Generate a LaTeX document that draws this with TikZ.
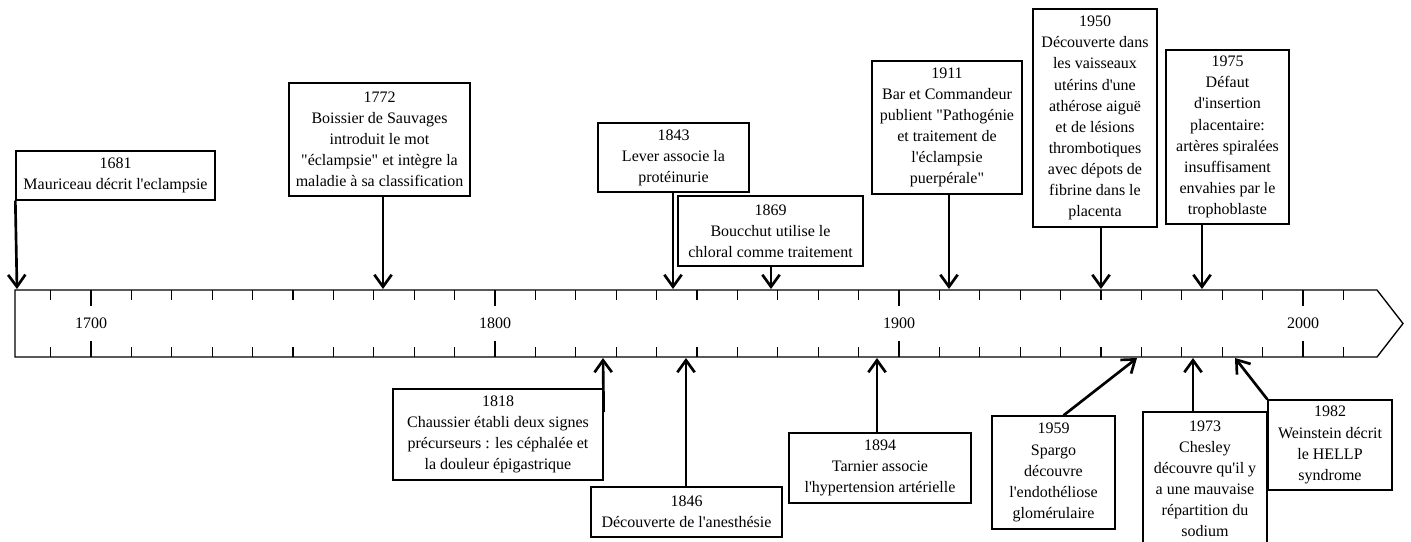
\documentclass[tikz,border=0pt]{standalone}
\usepackage{fontspec}
\setmainfont{Liberation Serif}[Ligatures=TeXOff]
\usepackage{tikz}
\usetikzlibrary{arrows.meta}

\tikzset{
  event/.style={draw, line width=1pt, inner sep=0pt, align=center, font=\fontsize{12}{15.8}\selectfont},
  pointer/.style={line width=2pt, -{Straight Barb[length=9pt, width=13pt]}},
  timebar/.style={line width=1pt, line join=miter},
  yeartick/.style={line width=1pt},
  yearlbl/.style={font=\fontsize{12}{14}\selectfont, inner sep=0pt}
}

\begin{document}
\begin{tikzpicture}[x=0.75pt, y=-0.75pt]
\useasboundingbox (0,0) rectangle (1411,542);
\clip (0,0) rectangle (1411,542);

% time axis
\draw[timebar] (15,290) -- (1377,290) -- (1403,323.5) -- (1377,357) -- (15,357) -- cycle;
\foreach \yr in {1690,1700,...,2010}
  \draw[yeartick] ({91+4.04*(\yr-1700)},290) -- ++(0,10) ({91+4.04*(\yr-1700)},357) -- ++(0,-10);
\foreach \yr in {1700,1800,1900,2000} {
  \draw[yeartick] ({91+4.04*(\yr-1700)},290) -- ++(0,16) ({91+4.04*(\yr-1700)},357) -- ++(0,-16);
  \node[yearlbl] (y\yr) at ({91+4.04*(\yr-1700)},323.5) {\yr};
}

% arrow ends on the axis
\coordinate (t1681) at (17,289);
\coordinate (t1772) at (383,289);
\coordinate (t1843) at (673,289);
\coordinate (t1869) at (771,289);
\coordinate (t1911) at (949,289);
\coordinate (t1950) at (1101,289);
\coordinate (t1975) at (1202,289);
\coordinate (b1818) at (603,358);
\coordinate (b1846) at (686,358);
\coordinate (b1894) at (877,358);
\coordinate (b1959) at (1137,358);
\coordinate (b1973) at (1193,358);
\coordinate (b1982) at (1235,358);

% events above
\node[event, minimum width=199*0.75pt, minimum height=49*0.75pt] (e1681) at (115.5,175.5) {1681\\Mauriceau décrit l'eclampsie};
\node[event, minimum width=181*0.75pt, minimum height=113*0.75pt] (e1772) at (379.5,139.5) {1772\\Boissier de Sauvages\\introduit le mot\\"éclampsie" et intègre la\\maladie à sa classification};
\node[event, minimum width=151*0.75pt, minimum height=69*0.75pt] (e1843) at (673.5,157.5) {1843\\Lever associe la\\protéinurie};
\node[event, minimum width=185*0.75pt, minimum height=70*0.75pt] (e1869) at (770.5,231) {1869\\Boucchut utilise le\\chloral comme traitement};
\node[event, minimum width=150*0.75pt, minimum height=133*0.75pt] (e1911) at (947,127.5) {1911\\Bar et Commandeur\\publient "Pathogénie\\et traitement de\\l'éclampsie\\puerpérale"};
\node[event, minimum width=124*0.75pt, minimum height=218*0.75pt] (e1950) at (1095,118) {1950\\Découverte dans\\les vaisseaux\\utérins d'une\\athérose aiguë\\et de lésions\\thrombotiques\\avec dépots de\\fibrine dans le\\placenta};
\node[event, minimum width=123*0.75pt, minimum height=174*0.75pt] (e1975) at (1227.5,137) {1975\\Défaut\\d'insertion\\placentaire:\\artères spiralées\\insuffisament\\envahies par le\\trophoblaste};

% events below
\node[event, minimum width=210*0.75pt, minimum height=91*0.75pt] (e1818) at (498,434.5) {1818\\Chaussier établi deux signes\\précurseurs : les céphalée et\\la douleur épigastrique};
\node[event, minimum width=191*0.75pt, minimum height=50*0.75pt] (e1846) at (686.5,512) {1846\\Découverte de l'anesthésie};
\node[event, minimum width=182*0.75pt, minimum height=70*0.75pt] (e1894) at (880,468) {1894\\Tarnier associe\\l'hypertension artérielle};
\node[event, minimum width=123*0.75pt, minimum height=113*0.75pt] (e1959) at (1053.5,472.5) {1959\\Spargo\\découvre\\l'endothéliose\\glomérulaire};
\node[event, minimum width=124*0.75pt, minimum height=133*0.75pt] (e1973) at (1205,478.5) {1973\\Chesley\\découvre qu'il y\\a une mauvaise\\répartition du\\sodium};
\node[event, minimum width=124*0.75pt, minimum height=90*0.75pt] (e1982) at (1330,445) {1982\\Weinstein décrit\\le HELLP\\syndrome};

% pointers
\draw[pointer] (e1681.south west) -- (t1681);
\draw[pointer] (t1772 |- e1772.south) -- (t1772);
\draw[pointer] (t1843 |- e1843.south) -- (t1843);
\draw[pointer] (t1869 |- e1869.south) -- (t1869);
\draw[pointer] (t1911 |- e1911.south) -- (t1911);
\draw[pointer] (t1950 |- e1950.south) -- (t1950);
\draw[pointer] (t1975 |- e1975.south) -- (t1975);
\draw[pointer] (e1818.12) -- (b1818);
\draw[pointer] (b1846 |- e1846.north) -- (b1846);
\draw[pointer] (b1894 |- e1894.north) -- (b1894);
\draw[pointer] (e1959.80) -- (b1959);
\draw[pointer] (b1973 |- e1973.north) -- (b1973);
\draw[pointer] (e1982.north west) -- (b1982);
\end{tikzpicture}
\end{document}
